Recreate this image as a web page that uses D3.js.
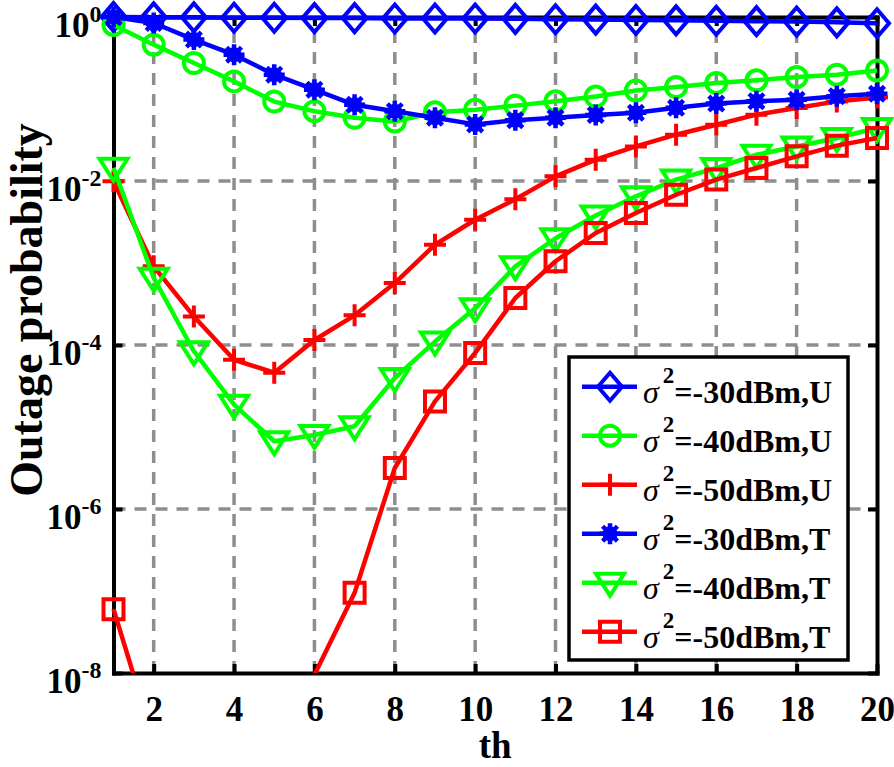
<!DOCTYPE html>
<html><head><meta charset="utf-8">
<script src="https://cdn.jsdelivr.net/npm/d3@7"></script>
<style>
body{margin:0;background:#fff}
svg{display:block}
text{font-family:"Liberation Serif","Times New Roman",serif;font-weight:bold;fill:#000}
</style>
</head><body><svg id="c" width="894" height="767"></svg>
<script>
// ---- data ----
const thValues = [1,2,3,4,5,6,7,8,9,10,11,12,13,14,15,16,17,18,19,20];
const xTickValues = [2,4,6,8,10,12,14,16,18,20];
const yTickExponents = [0,-2,-4,-6,-8];
const seriesNames = ["-30dBm,U","-40dBm,U","-50dBm,U","-30dBm,T","-40dBm,T","-50dBm,T"];
const u30 = [1.0,0.99,0.99,0.98,0.98,0.97,0.97,0.96,0.96,0.96,0.95,0.94,0.93,0.92,0.91,0.90,0.89,0.88,0.86,0.84];
const u40 = [0.80,0.46,0.275,0.164,0.093,0.071,0.059,0.053,0.069,0.074,0.083,0.094,0.107,0.127,0.140,0.157,0.169,0.185,0.198,0.223];
const u50 = [0.0099,9.1e-4,2.23e-4,6.6e-5,4.6e-5,1.15e-4,2.3e-4,5.7e-4,1.67e-3,3.37e-3,6.0e-3,0.0114,0.0182,0.0264,0.0367,0.0486,0.0644,0.0777,0.0935,0.1046];
const t30 = [1.0,0.845,0.53,0.347,0.198,0.130,0.085,0.071,0.059,0.049,0.055,0.059,0.064,0.068,0.078,0.088,0.094,0.098,0.108,0.116];
const t40 = [0.0145,6.6e-4,8.4e-5,1.87e-5,6.7e-6,8.0e-6,1.02e-5,3.96e-5,1.1e-4,2.8e-4,9.1e-4,2.0e-3,3.8e-3,6.5e-3,0.0104,0.0144,0.0209,0.0264,0.0334,0.0443];
const t50 = [6.0e-8,1.5e-9,2e-10,1e-10,1e-9,9.5e-9,9.5e-8,3.16e-6,2.05e-5,8.0e-5,3.74e-4,1.05e-3,2.32e-3,4.07e-3,6.8e-3,0.0104,0.0144,0.020,0.027,0.0334];
const seriesValues = [u30,u40,u50,t30,t40,t50];
const seriesColors = ["#0000ff","#00ff00","#ff0000","#0000ff","#00ff00","#ff0000"];
const seriesMarkers = ["diamond","circle","plus","asterisk","triangle","square"];

// ---- layout ----
const L = 113.5, R = 877, T = 17, B = 673;
const svg = d3.select("#c");
const x = d3.scaleLinear().domain([1,20]).range([L,R]);
const y = d3.scaleLog().domain([1e-8,1]).range([B,T]);

// grid
const grid = svg.append("g").attr("stroke","#8e8e8e").attr("stroke-width",3.5).attr("stroke-dasharray","12,9");
xTickValues.filter(v=>v<20).forEach(v=>{
  grid.append("line").attr("x1",x(v)).attr("x2",x(v)).attr("y1",B).attr("y2",T);
});
yTickExponents.filter(e=>e<0 && e>-8).forEach(e=>{
  grid.append("line").attr("x1",L).attr("x2",R).attr("y1",y(Math.pow(10,e))).attr("y2",y(Math.pow(10,e)));
});

// axes
const yTicks = yTickExponents.map(e=>Math.pow(10,e));
function styleAxis(g){
  g.selectAll("path.domain").attr("stroke","#000").attr("stroke-width",4).attr("stroke-linecap","square");
  g.selectAll(".tick line").attr("stroke","#000").attr("stroke-width",4);
}
const gx = svg.append("g").attr("transform",`translate(0,${B})`)
  .call(d3.axisBottom(x).tickValues(xTickValues).tickSize(-9).tickSizeOuter(0).tickPadding(23));
gx.selectAll("text").attr("font-size",35).attr("font-family","Liberation Serif").attr("font-weight","bold");
styleAxis(gx);
const gt = svg.append("g").attr("transform",`translate(0,${T})`)
  .call(d3.axisTop(x).tickValues(xTickValues).tickSize(-9).tickSizeOuter(0).tickFormat(""));
styleAxis(gt);
const gy = svg.append("g").attr("transform",`translate(${L},0)`)
  .call(d3.axisLeft(y).tickValues(yTicks).tickSize(-9).tickSizeOuter(0).tickFormat(""));
styleAxis(gy);
const gr = svg.append("g").attr("transform",`translate(${R},0)`)
  .call(d3.axisRight(y).tickValues(yTicks).tickSize(-9).tickSizeOuter(0).tickFormat(""));
styleAxis(gr);
gy.selectAll(".tick").each(function(d){
  const e = Math.round(Math.log10(d));
  const t = d3.select(this).append("text").attr("x",-12).attr("y",19)
    .attr("text-anchor","end").attr("font-size",35).attr("font-family","Liberation Serif").attr("font-weight","bold").attr("fill","#000");
  t.append("tspan").text("10");
  t.append("tspan").attr("dy",-15).attr("font-size",24).text(String(e));
});

// axis labels
svg.append("text").attr("x",(L+R)/2).attr("y",758).attr("text-anchor","middle").attr("font-size",37).text("th");
svg.append("text").attr("transform",`translate(42,${(T+B)/2 - 35}) rotate(-90)`).attr("text-anchor","middle").attr("font-size",46).text("Outage probability");

// markers
function markerPath(type){
  switch(type){
    case "diamond": return "M0,-14L12,0L0,14L-12,0Z";
    case "square": return "M-10,-10H10V10H-10Z";
    case "triangle": return "M-14,-9H14L0,13Z";
    case "plus": return "M-11,0H11M0,-11V11";
    case "asterisk": {
      let p=""; for(let k=0;k<4;k++){const a=k*Math.PI/4; const c=Math.cos(a)*10.5, s=Math.sin(a)*10.5; p+=`M${-c},${-s}L${c},${s}`;} return p;
    }
  }
  return "";
}
function drawMarker(g,type,color,cx,cy){
  if(type==="circle"){
    g.append("circle").attr("cx",cx).attr("cy",cy).attr("r",10).attr("fill","none").attr("stroke",color).attr("stroke-width",4);
  } else if(type==="asterisk"){
    g.append("circle").attr("cx",cx).attr("cy",cy).attr("r",7.5).attr("fill",color);
    g.append("path").attr("d",markerPath(type)).attr("transform",`translate(${cx},${cy})`)
      .attr("fill","none").attr("stroke",color).attr("stroke-width",4.5);
  } else {
    g.append("path").attr("d",markerPath(type)).attr("transform",`translate(${cx},${cy})`)
      .attr("fill","none").attr("stroke",color).attr("stroke-width",4).attr("stroke-linejoin","miter");
  }
}

svg.append("clipPath").attr("id","clip").append("rect").attr("x",L-20).attr("y",0).attr("width",R-L+40).attr("height",B);
const line = d3.line().x(d=>x(d[0])).y(d=>y(d[1]));
seriesValues.forEach((vals,i)=>{
  const pts = thValues.map((t,j)=>[t,vals[j]]);
  const g = svg.append("g");
  g.append("path").attr("d",line(pts)).attr("fill","none").attr("stroke",seriesColors[i]).attr("stroke-width",4.5)
    .attr("stroke-linejoin","round").attr("clip-path","url(#clip)");
  pts.filter(p=>p[1]>=1e-8).forEach(p=>drawMarker(g,seriesMarkers[i],seriesColors[i],x(p[0]),y(p[1])));
});

// legend
const lg = svg.append("g");
lg.append("rect").attr("x",569).attr("y",357).attr("width",279).attr("height",303).attr("fill","#fff").attr("stroke","#000").attr("stroke-width",3.5);
seriesNames.forEach((name,i)=>{
  const cy = 386.7 + i*49;
  lg.append("line").attr("x1",582).attr("x2",637).attr("y1",cy).attr("y2",cy).attr("stroke",seriesColors[i]).attr("stroke-width",4.5);
  drawMarker(lg,seriesMarkers[i],seriesColors[i],610,cy);
  const t = lg.append("text").attr("x",643).attr("y",cy+16.5).attr("font-size",32);
  t.append("tspan").attr("font-style","italic").attr("font-weight","normal").text("σ");
  t.append("tspan").attr("dy",-20).attr("dx",4).attr("font-size",23).text("2");
  t.append("tspan").attr("dy",20).text("=" + name);
});
</script>
</body></html>
